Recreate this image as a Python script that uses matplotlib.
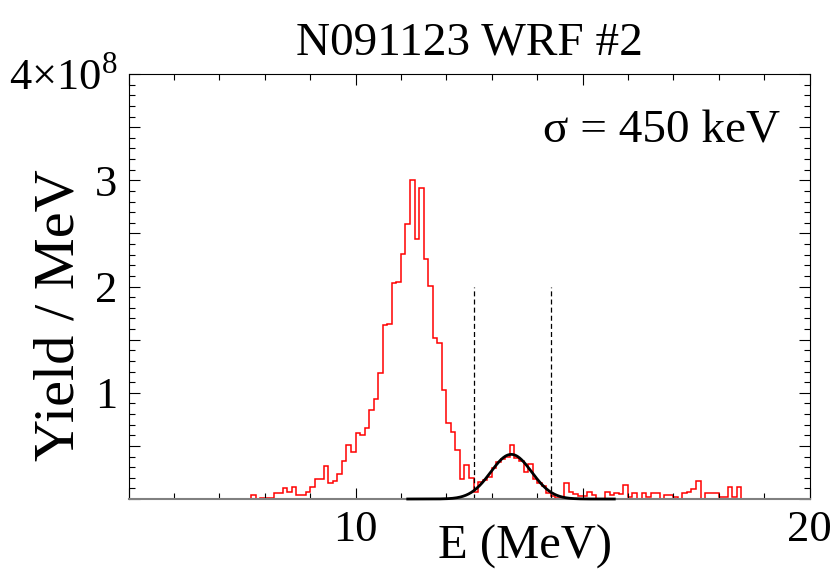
import numpy as np
import matplotlib
matplotlib.use("Agg")
import matplotlib.pyplot as plt
from matplotlib.ticker import MultipleLocator, FixedLocator, FixedFormatter

plt.rcParams["font.family"] = ["Liberation Serif", "DejaVu Serif"]
plt.rcParams["mathtext.fontset"] = "custom"
plt.rcParams["mathtext.rm"] = "Liberation Serif"

# histogram, 0.1 MeV bins starting at 7.5 MeV, yield in units of 1e8 / MeV
bin_start = 7.5
bin_width = 0.1
yield_e8 = [
    0.0, 0.0, 0.04, 0.0, 0.013, 0.01, 0.01, 0.06, 0.06, 0.10,
    0.07, 0.116, 0.035, 0.035, 0.07, 0.116, 0.185, 0.185, 0.315, 0.15,
    0.165, 0.24, 0.36, 0.505, 0.44, 0.62, 0.60, 0.672, 0.84, 0.942,
    1.19, 1.635, 1.647, 2.03, 2.042, 2.305, 2.585, 3.00, 2.444, 2.924,
    2.259, 2.008, 1.518, 1.465, 1.026, 0.718, 0.634, 0.461, 0.185, 0.317,
    0.20, 0.065, 0.163, 0.175, 0.205, 0.29, 0.345, 0.38, 0.395, 0.505,
    0.39, 0.36, 0.25, 0.33, 0.19, 0.15, 0.12, 0.06, 0.03, 0.01,
    0.0, 0.148, 0.063, 0.05, 0.03, 0.025, 0.063, 0.04, 0.0, 0.0,
    0.063, 0.04, 0.053, 0.047, 0.135, 0.02, 0.053, 0.0, 0.053, 0.02,
    0.053, 0.053, 0.0, 0.035, 0.035, 0.016, 0.0, 0.053, 0.069, 0.091,
    0.166, 0.0, 0.053, 0.053, 0.053, 0.02, 0.02, 0.116, 0.02, 0.11,
    0.0,
]

# gaussian fit of the WRF peak
fit_amp = 0.42
fit_mean = 13.43
fit_sigma = 0.45
fit_range = [11.15, 15.7]

# dashed limits
cut_lo = 12.6
cut_hi = 14.3
cut_height = 2.0

edges = bin_start + bin_width * np.arange(len(yield_e8) + 1)
e_fit = np.linspace(fit_range[0], fit_range[1], 300)
y_fit = fit_amp * np.exp(-0.5 * ((e_fit - fit_mean) / fit_sigma) ** 2)

fig = plt.figure(figsize=(8.35, 5.69), dpi=100)
ax = fig.add_axes([0.1539, 0.1230, 0.8156, 0.7469])

ax.stairs(yield_e8, edges, color="red", lw=1.1)
ax.plot(e_fit, y_fit, color="black", lw=2, clip_on=False, zorder=4)
ax.vlines([cut_lo, cut_hi], 0, cut_height, colors="black", linestyles=(0, (4, 2.5)), lw=0.9)

ax.set_xlim(5, 20)
ax.set_ylim(0, 4)

ax.xaxis.set_major_locator(FixedLocator([5, 10, 15, 20]))
ax.xaxis.set_major_formatter(FixedFormatter(["", "10", "", "20"]))
ax.xaxis.set_minor_locator(MultipleLocator(1))
ax.yaxis.set_major_locator(FixedLocator([0, 0.5, 1, 1.5, 2, 2.5, 3, 3.5, 4]))
ax.yaxis.set_major_formatter(FixedFormatter(["", "", "1", "", "2", "", "3", "", r"4×10$^{8}$"]))
ax.yaxis.set_minor_locator(MultipleLocator(0.1))

ax.tick_params(which="both", direction="in", top=True, right=True, labelsize=32, width=0.8)
ax.tick_params(which="major", length=8, pad=8)
ax.tick_params(which="minor", length=4)
for s in ax.spines.values():
    s.set_linewidth(0.8)
ax.spines["bottom"].set_color("#808080")
ax.spines["bottom"].set_linewidth(1.5)

ax.set_title("N091123 WRF #2", fontsize=34, pad=14)
fig.text(60 / 835, 1 - 315 / 569, "Yield / MeV", rotation=90, fontsize=42,
         ha="center", va="center")
fig.text(525 / 835, 1 - 547 / 569, "E (MeV)", fontsize=35, ha="center", va="center")
ax.text(0.957, 0.866, "σ = 450 keV", transform=ax.transAxes, fontsize=34,
        ha="right", va="center")

fig.savefig("out.png", dpi=100)
